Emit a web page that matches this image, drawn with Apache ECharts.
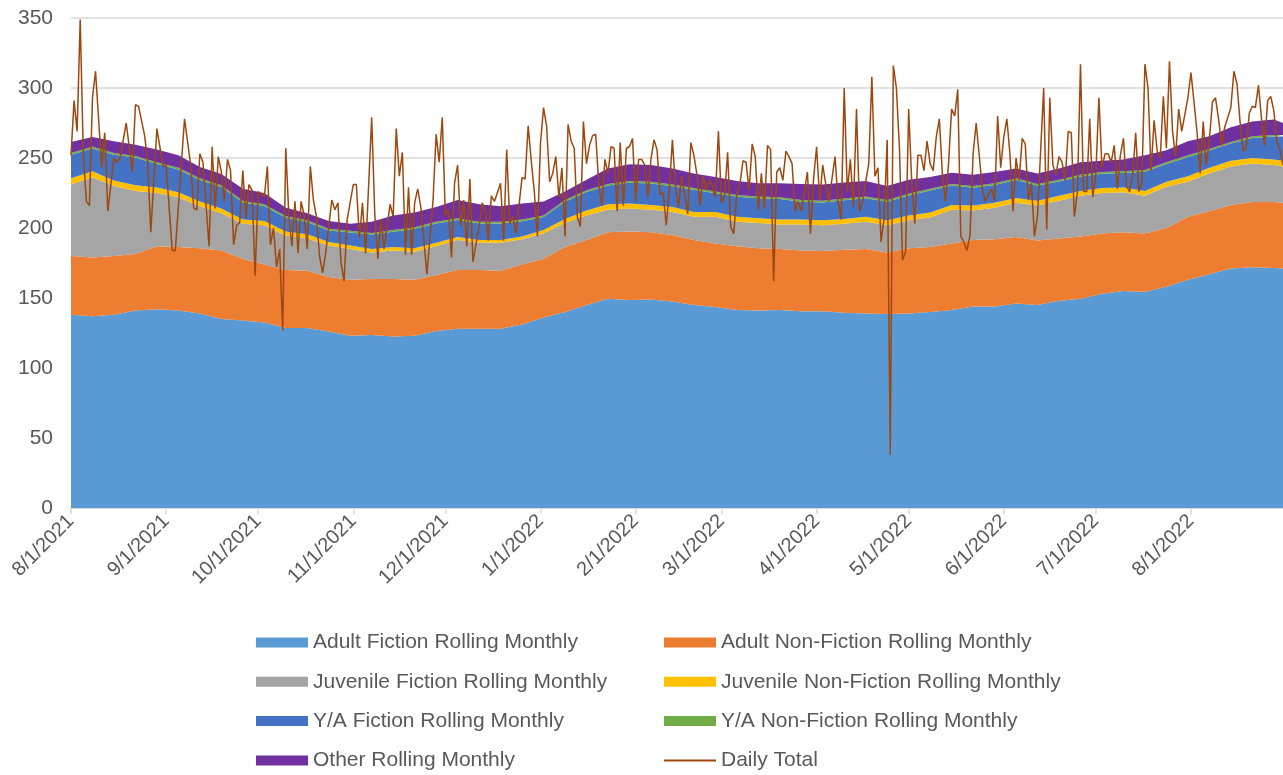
<!DOCTYPE html>
<html>
<head>
<meta charset="utf-8">
<title>Rolling monthly circulation</title>
<script src="https://cdn.jsdelivr.net/npm/echarts@6/dist/echarts.min.js"></script>
<style>
  html, body { margin: 0; padding: 0; background: #fff; }
  #chart { width: 1283px; height: 775px; }
</style>
</head>
<body>
<div id="chart"></div>
<script>
// days counted from 8/1/2021
var weekDays = [0, 7, 14, 21, 28, 35, 42, 49, 56, 63, 70, 77,
  84, 91, 98, 105, 112, 119, 126, 133, 140, 147, 154,
  161, 168, 175, 182, 189, 196, 203, 210, 217,
  224, 231, 238, 245, 252, 259, 266, 273, 280, 287, 294, 301, 308,
  315, 322, 329, 336, 343, 350, 357, 364, 371, 378, 385, 392, 395];

var adultFiction = [138, 137, 138, 141, 142, 141, 139, 135, 134, 132.5, 128.5, 128.5,
  126, 123, 123.5, 122.5, 123, 126.5, 128, 128, 128, 131, 136,
  140, 145, 149.5, 148.5, 149, 147.5, 145, 143.5, 141.5,
  141, 141.5, 140.5, 140.5, 139.5, 139, 138.5, 139, 140, 141.5, 144, 144, 146,
  145, 148, 149.5, 153, 155, 154.5, 158, 163, 167, 171, 172, 171.5, 171];

var adultNonFiction = [42, 42, 42, 40.5, 45, 45.5, 46.5, 49, 44, 41.5, 41.5, 41,
  39, 40, 40, 41, 40, 40, 42, 42, 41.5, 43, 42,
  46.5, 46.5, 47.5, 49, 48, 47.5, 46.5, 45.5, 45.5,
  44.5, 43.5, 43.5, 43, 45, 46, 44, 46.5, 46.5, 47.5, 47.5, 48, 47.5,
  46, 44.5, 44.5, 43, 42, 41.5, 42, 45, 45, 45.5, 46.5, 47, 47];

var juvenileFiction = [51, 57, 50, 45, 38, 35.5, 30, 26.5, 25, 28, 24.5, 23,
  22.5, 22, 19, 20.5, 20, 20.5, 21.5, 19.5, 20, 18, 18,
  17, 17.5, 16, 16.5, 16, 16.5, 16.5, 19, 17.5,
  18, 17.5, 18.5, 18.5, 18.5, 19.5, 19.5, 20, 21, 24, 21, 22.5, 24.5,
  25, 27, 29, 29, 28.5, 27, 29.5, 25, 27, 27.5, 27.5, 26.5, 26];

var juvenileNonFiction = [4.5, 4.5, 4, 4, 4, 3.5, 3.5, 3.5, 3, 3, 3, 3,
  2.5, 2.5, 2.5, 2.5, 2.5, 2.5, 2, 2, 2, 2, 2.5,
  3, 3.5, 4, 3.5, 3.5, 3.5, 3.5, 3.5, 3.5,
  3.5, 3.5, 3.5, 3.5, 3.5, 3.5, 3.5, 3.5, 3.5, 3.5, 3.5, 3.5, 3.5,
  3.5, 3.5, 3.5, 3.5, 3.5, 3.5, 3.5, 4, 4, 4, 4, 4, 4];

var yaFiction = [16.8, 16.3, 18.3, 19.8, 16.8, 16.3, 15.3, 15.3, 12.3, 10.8, 9.8, 8.8,
  8.3, 9.3, 10.3, 10.8, 13.8, 13.8, 12.3, 11.8, 11.8, 10.8, 9.3,
  12.3, 13.3, 13.3, 14.8, 15.3, 14.8, 15.8, 13.3, 14.3,
  14.3, 14.8, 12.8, 12.8, 13.3, 13.3, 13.3, 14.3, 15.8, 13.8, 12.8, 12.8, 12.8,
  10.8, 10.3, 10.3, 10.3, 10.3, 13.7, 12.8, 13.8, 12.3, 12.3, 14.3, 16.3, 17.3];

var yaNonFiction = [1.2, 1.2, 1.2, 1.2, 1.2, 1.2, 1.2, 1.2, 1.2, 1.2, 1.2, 1.2,
  1.2, 1.2, 1.2, 1.2, 1.2, 1.2, 1.2, 1.2, 1.2, 1.2, 1.2,
  1.2, 1.2, 1.2, 1.2, 1.2, 1.2, 1.2, 1.2, 1.2,
  1.2, 1.2, 1.2, 1.2, 1.2, 1.2, 1.2, 1.2, 1.2, 1.2, 1.2, 1.2, 1.2,
  1.2, 1.2, 1.2, 1.2, 1.2, 1.2, 1.2, 1.2, 1.2, 1.2, 1.2, 1.2, 1.2];

var otherMonthly = [8, 7, 8.5, 8, 9, 9, 8, 8, 8.5, 8, 6, 5,
  5.5, 5, 8, 10.5, 10.5, 10.5, 13, 12.5, 11, 11.5, 10,
  6, 7.5, 11, 12, 12, 11.5, 10.5, 10.5, 10,
  9.5, 10, 11.5, 11.5, 11.5, 11, 10, 10, 8.5, 8, 8, 8, 7,
  7.5, 8, 9, 8, 8.5, 10.6, 8.5, 10, 9, 10.5, 10.5, 11, 8.5];

// daily total, read at the visible vertices of the line
var totalDays = [0, 1, 2, 3, 4, 5, 6, 7, 8, 10, 11, 12, 14, 15, 16, 18, 20, 21, 22, 24,
  25, 26, 28, 30, 31, 33, 34, 37, 39, 40, 41, 42, 43, 45, 46, 47, 48, 49, 50, 51,
  52, 53, 54, 55, 56, 57, 58, 59, 60, 61, 62, 63, 64, 65, 66, 67, 68, 69, 70, 71,
  72, 73, 74, 75, 76, 77, 78, 79, 80, 81, 82, 83, 85, 86, 87, 88, 89, 90, 92, 93,
  94, 95, 96, 98, 99, 100, 101, 102, 104, 105, 106, 107, 108, 109, 110, 111, 112, 113, 114, 116,
  118, 119, 120, 121, 122, 123, 124, 125, 126, 127, 128, 129, 130, 131, 133, 134, 135, 136, 137, 138,
  140, 141, 142, 143, 144, 145, 147, 148, 149, 150, 151, 152, 153, 154, 155, 156, 157, 158, 159, 160,
  161, 162, 163, 164, 165, 166, 167, 168, 169, 170, 171, 172, 173, 174, 175, 176, 177, 178, 179, 180,
  181, 182, 183, 184, 185, 186, 187, 188, 189, 190, 191, 192, 193, 194, 195, 196, 197, 198, 199, 200,
  201, 202, 203, 204, 205, 206, 207, 208, 209, 210, 211, 212, 213, 214, 215, 216, 217, 218, 219, 220,
  221, 222, 223, 224, 225, 226, 227, 228, 229, 230, 231, 232, 233, 234, 235, 236, 237, 238, 240, 241,
  242, 243, 244, 245, 246, 247, 249, 250, 251, 252, 253, 254, 255, 256, 257, 258, 259, 260, 261, 262,
  263, 264, 265, 266, 267, 268, 269, 270, 271, 272, 273, 274, 275, 276, 277, 278, 279, 280, 281, 282,
  283, 284, 285, 286, 287, 288, 289, 290, 291, 292, 293, 294, 295, 296, 297, 298, 299, 300, 301, 302,
  303, 304, 305, 306, 307, 308, 309, 310, 311, 312, 313, 314, 315, 317, 318, 319, 320, 321, 322, 323,
  324, 325, 326, 327, 328, 329, 330, 331, 332, 333, 334, 335, 336, 337, 338, 339, 340, 341, 342, 343,
  344, 345, 346, 347, 348, 349, 350, 351, 352, 353, 354, 355, 356, 357, 358, 359, 360, 361, 362, 363,
  364, 365, 366, 367, 368, 369, 370, 371, 372, 373, 374, 375, 376, 378, 379, 380, 381, 382, 383, 384,
  385, 386, 387, 388, 389, 390, 391, 392, 393, 394, 395];

var totalValues = [252, 291, 269, 349, 254, 219, 216, 293, 312, 243, 268, 212, 250, 247, 250, 275, 240, 288, 287, 266,
  247, 197, 271, 244, 245, 184, 184, 278, 245, 214, 213, 253, 247, 187, 258, 214, 251, 240, 219, 249,
  241, 188, 202, 204, 241, 207, 231, 227, 166, 226, 224, 222, 244, 188, 200, 172, 185, 127, 257, 209,
  187, 219, 182, 219, 209, 185, 244, 220, 208, 180, 168, 182, 220, 213, 218, 175, 162, 206, 231, 231,
  193, 218, 182, 279, 210, 178, 206, 185, 217, 208, 271, 237, 254, 181, 229, 181, 218, 228, 215, 167,
  220, 267, 247, 279, 209, 213, 179, 232, 245, 201, 220, 187, 235, 176, 201, 218, 212, 191, 223, 219,
  232, 191, 256, 203, 208, 196, 236, 235, 273, 248, 226, 194, 260, 286, 273, 233, 239, 251, 222, 243,
  194, 274, 262, 257, 208, 201, 276, 246, 259, 266, 267, 231, 216, 249, 239, 258, 257, 212, 261, 216,
  257, 258, 264, 219, 249, 249, 245, 222, 249, 263, 256, 224, 225, 202, 227, 263, 229, 215, 237, 224,
  210, 261, 252, 238, 216, 237, 227, 234, 230, 222, 269, 218, 223, 254, 201, 196, 225, 231, 248, 247,
  227, 260, 251, 213, 239, 214, 259, 256, 162, 240, 243, 234, 255, 251, 246, 212, 219, 212, 240, 196,
  235, 258, 220, 245, 231, 219, 251, 219, 206, 300, 226, 249, 215, 285, 212, 219, 233, 246, 308, 237,
  243, 190, 207, 263, 38, 316, 300, 257, 177, 183, 285, 233, 203, 252, 252, 241, 262, 246, 241, 265,
  278, 238, 219, 246, 285, 280, 299, 194, 190, 184, 195, 253, 275, 252, 228, 219, 224, 228, 219, 280,
  243, 265, 278, 253, 212, 250, 234, 264, 260, 220, 232, 194, 209, 300, 199, 293, 245, 238, 251, 247,
  234, 269, 268, 208, 226, 317, 226, 226, 278, 222, 238, 293, 243, 253, 253, 247, 259, 228, 252, 264,
  230, 226, 238, 268, 226, 233, 317, 300, 241, 277, 255, 250, 294, 257, 319, 269, 251, 285, 269, 281,
  293, 311, 290, 268, 239, 276, 245, 263, 290, 293, 278, 259, 272, 286, 312, 303, 276, 255, 257, 282,
  287, 286, 302, 278, 259, 291, 294, 284, 262, 256, 245];

function dayToTime(d) {
  return new Date(2021, 7, 1 + d).getTime();
}

function pairs(days, values) {
  var out = [];
  for (var i = 0; i < days.length; i++) {
    out.push([dayToTime(days[i]), values[i]]);
  }
  return out;
}

function areaSeries(name, color, values) {
  return {
    name: name,
    type: 'line',
    stack: 'rolling',
    symbol: 'none',
    showSymbol: false,
    lineStyle: { width: 0 },
    itemStyle: { color: color },
    areaStyle: { color: color, opacity: 1 },
    data: pairs(weekDays, values)
  };
}

var labelColor = '#595959';
var gridColor = '#d9d9d9';

function legendColumn(left, items) {
  return {
    orient: 'vertical',
    left: left,
    top: 632,
    padding: 0,
    itemWidth: 52,
    itemHeight: 10,
    itemGap: 18.3,
    textStyle: { fontSize: 21, color: labelColor },
    data: items
  };
}

var myChart = echarts.init(document.getElementById('chart'));

var option = {
  animation: false,
  backgroundColor: '#ffffff',
  textStyle: { fontFamily: 'Liberation Sans, Arial, sans-serif' },
  grid: {
    left: 71,
    right: 0,
    top: 18,
    bottom: 267,
    containLabel: false,
    outerBoundsMode: 'none'
  },
  legend: [
    legendColumn(256, [
      { name: 'Adult Fiction Rolling Monthly', icon: 'rect' },
      { name: 'Juvenile Fiction Rolling Monthly', icon: 'rect' },
      { name: 'Y/A Fiction Rolling Monthly', icon: 'rect' },
      { name: 'Other Rolling Monthly', icon: 'rect' }
    ]),
    legendColumn(664, [
      { name: 'Adult Non-Fiction Rolling Monthly', icon: 'rect' },
      { name: 'Juvenile Non-Fiction Rolling Monthly', icon: 'rect' },
      { name: 'Y/A Non-Fiction Rolling Monthly', icon: 'rect' },
      { name: 'Daily Total', icon: 'path://M0,0H52V2H0Z' }
    ])
  ],
  xAxis: {
    type: 'time',
    min: dayToTime(0),
    max: dayToTime(395),
    splitNumber: 13,
    axisLine: { show: true, lineStyle: { color: gridColor, width: 1.5 } },
    axisTick: { show: true, length: 6, lineStyle: { color: gridColor, width: 1.5 } },
    splitLine: { show: false },
    axisLabel: {
      rotate: 45,
      fontSize: 20,
      color: labelColor,
      margin: 10,
      showMinLabel: true,
      showMaxLabel: false,
      hideOverlap: false,
      formatter: function (value) {
        var d = new Date(value);
        return (d.getMonth() + 1) + '/' + d.getDate() + '/' + d.getFullYear();
      }
    }
  },
  yAxis: {
    type: 'value',
    min: 0,
    max: 350,
    interval: 50,
    axisLine: { show: false },
    axisTick: { show: false },
    axisLabel: { fontSize: 21, color: labelColor, margin: 18 },
    splitLine: { lineStyle: { color: gridColor, width: 1.5 } }
  },
  series: [
    areaSeries('Adult Fiction Rolling Monthly', '#5b9bd5', adultFiction),
    areaSeries('Adult Non-Fiction Rolling Monthly', '#ed7d31', adultNonFiction),
    areaSeries('Juvenile Fiction Rolling Monthly', '#a5a5a5', juvenileFiction),
    areaSeries('Juvenile Non-Fiction Rolling Monthly', '#ffc000', juvenileNonFiction),
    areaSeries('Y/A Fiction Rolling Monthly', '#4472c4', yaFiction),
    areaSeries('Y/A Non-Fiction Rolling Monthly', '#70ad47', yaNonFiction),
    areaSeries('Other Rolling Monthly', '#7030a0', otherMonthly),
    {
      name: 'Daily Total',
      type: 'line',
      z: 5,
      symbol: 'none',
      showSymbol: false,
      itemStyle: { color: '#9e480e' },
      lineStyle: { color: '#9e480e', width: 1.5 },
      data: pairs(totalDays, totalValues)
    }
  ]
};

myChart.setOption(option);
</script>
</body>
</html>
